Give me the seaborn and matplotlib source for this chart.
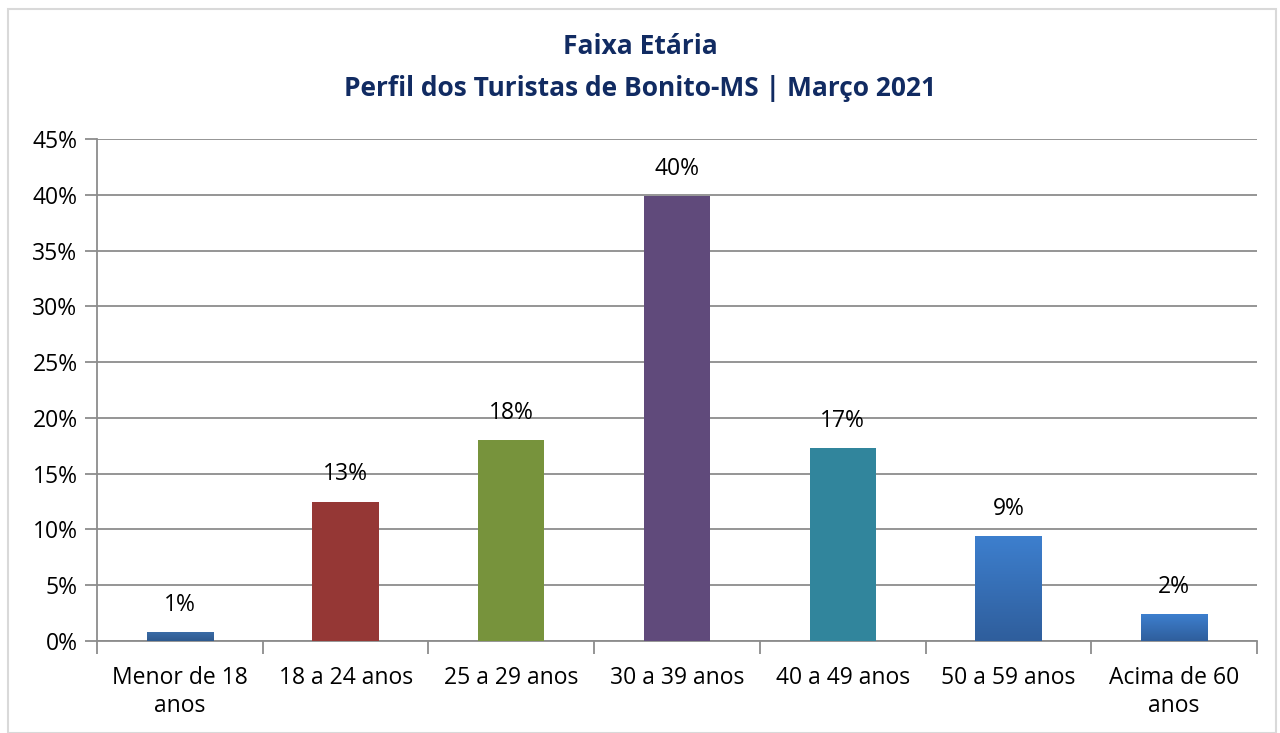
import matplotlib
matplotlib.use("Agg")
import matplotlib.pyplot as plt
import seaborn as sns
import numpy as np
import pandas as pd
from matplotlib.ticker import MultipleLocator, FixedLocator, FuncFormatter
from matplotlib.patches import Rectangle
from matplotlib.colors import LinearSegmentedColormap

categories = ["Menor de 18\nanos", "18 a 24 anos", "25 a 29 anos", "30 a 39 anos",
              "40 a 49 anos", "50 a 59 anos", "Acima de 60\nanos"]
values = [0.8, 12.5, 18.0, 39.9, 17.3, 9.4, 2.4]
labels = ["1%", "13%", "18%", "40%", "17%", "9%", "2%"]
colors = ["#35639B", "#953735", "#77933C", "#604A7B", "#31859C", "#3A78C6", "#3A78C6"]
gradients = {0: ("#3A6BA6", "#2F5A8E"), 5: ("#3D7FCE", "#2F5E9C"), 6: ("#3D7FCE", "#2F5E9C")}

sns.set_theme(style="white")
plt.rcParams['font.family'] = ['Open Sans', 'DejaVu Sans']

df = pd.DataFrame({"cat": categories, "val": values})

fig = plt.figure(figsize=(12.8, 7.33), dpi=100)
ax = fig.add_axes([97/1280, 1-641/733, 1160/1280, (641-139)/733])

sns.barplot(data=df, x="cat", y="val", hue="cat", palette=colors, legend=False,
            width=0.40, ax=ax, saturation=1, zorder=3, edgecolor="none")

# gradients on blue bars
for i, p in enumerate(ax.patches):
    if i in gradients:
        top, bot = gradients[i]
        cmap = LinearSegmentedColormap.from_list("g", [bot, top])
        x0, y0 = p.get_x(), p.get_y()
        w, h = p.get_width(), p.get_height()
        grad = np.linspace(0, 1, 256).reshape(-1, 1)
        im = ax.imshow(grad, extent=[x0, x0 + w, y0, y0 + h], origin="lower",
                       aspect="auto", cmap=cmap, zorder=3.5)
        im.set_clip_path(p)

ax.set_xlim(-0.5, len(categories) - 0.5)
ax.set_ylim(0, 45)
ax.yaxis.set_major_locator(MultipleLocator(5))
ax.yaxis.set_major_formatter(FuncFormatter(lambda v, pos: f"{int(round(v))}%"))
ax.grid(axis="y", color="#8C8C8C", linewidth=1.3, zorder=0)
ax.set_axisbelow(True)

for s in ["top", "right"]:
    ax.spines[s].set_visible(False)
for s in ["left", "bottom"]:
    ax.spines[s].set_color("#8C8C8C")
    ax.spines[s].set_linewidth(1.3)

ax.set_xlabel("")
ax.set_ylabel("")
ax.tick_params(axis="y", which="major", length=9, width=1.3, color="#8C8C8C",
               labelsize=16.5, labelcolor="black", left=True, pad=5)
ax.tick_params(axis="x", which="major", length=0, labelsize=16.5, labelcolor="black", pad=18)
ax.xaxis.set_minor_locator(FixedLocator(np.arange(-0.5, len(categories), 1)))
ax.tick_params(axis="x", which="minor", length=9, width=1.3, color="#8C8C8C",
               bottom=True, direction="out")
for t in ax.get_xticklabels():
    t.set_linespacing(1.25)

for i, p in enumerate(ax.patches):
    ax.annotate(labels[i], (p.get_x() + p.get_width() / 2, p.get_height()),
                xytext=(0, 11), textcoords="offset points", ha="center", va="bottom",
                fontsize=16.5, color="black")

fig.text(0.5, 1 - 47/733, "Faixa Etária", ha="center", va="center",
         fontsize=19, fontweight="bold", color="#112B62")
fig.text(0.5, 1 - 88/733, "Perfil dos Turistas de Bonito-MS | Março 2021", ha="center",
         va="center", fontsize=19, fontweight="bold", color="#112B62")

fig.patches.append(Rectangle((8/1280, 0), 1268/1280, 1 - 9/733, transform=fig.transFigure,
                             fill=False, edgecolor="#D9D9D9", linewidth=1.5))

fig.savefig("out.png", dpi=100)
